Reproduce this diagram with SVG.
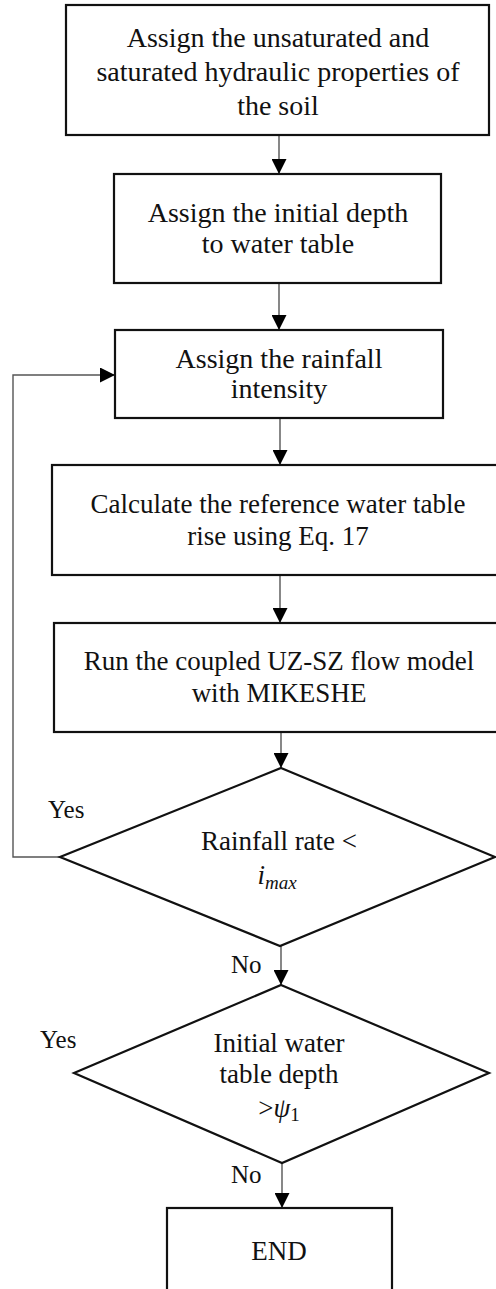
<svg xmlns="http://www.w3.org/2000/svg" width="496" height="1289" viewBox="0 0 496 1289">
<style>
.box{fill:#fff;stroke:#111;stroke-width:2.2}
.t{font-family:'Liberation Serif','DejaVu Serif',serif;font-size:27px;fill:#111;text-anchor:middle}
.tb{font-size:28px}
.lbl{font-family:'Liberation Serif','DejaVu Serif',serif;font-size:25px;fill:#111}
.m{font-style:italic}
.c{fill:none;stroke:#555;stroke-width:1.4}
</style>
<defs>
<marker id="ah" markerUnits="userSpaceOnUse" markerWidth="15" markerHeight="15" refX="15" refY="7.5" orient="auto">
<path d="M0,0 L15,7.5 L0,15 z" fill="#000"/>
</marker>
</defs>
<rect width="496" height="1289" fill="#fff"/>
<g id="connectors">
<line class="c" x1="279" y1="135" x2="279" y2="174" marker-end="url(#ah)"/>
<line class="c" x1="279" y1="283" x2="279" y2="330" marker-end="url(#ah)"/>
<line class="c" x1="280" y1="418" x2="280" y2="465" marker-end="url(#ah)"/>
<line class="c" x1="280" y1="575" x2="280" y2="623" marker-end="url(#ah)"/>
<line class="c" x1="281" y1="732" x2="281" y2="768" marker-end="url(#ah)"/>
<line class="c" x1="281" y1="946" x2="281" y2="985" marker-end="url(#ah)"/>
<line class="c" x1="282" y1="1163" x2="282" y2="1208" marker-end="url(#ah)"/>
<polyline class="c" points="60,857 13,857 13,375 115,375" marker-end="url(#ah)"/>
<text class="lbl" x="48" y="818">Yes</text>
<text class="lbl" x="231" y="973">No</text>
<text class="lbl" x="40" y="1048">Yes</text>
<text class="lbl" x="231" y="1183">No</text>
</g>
<g id="n1">
<rect class="box" x="66" y="5" width="423" height="130"/>
<text class="t tb" x="278" y="47">Assign the unsaturated and</text>
<text class="t tb" x="278" y="81">saturated hydraulic properties of</text>
<text class="t tb" x="278" y="115">the soil</text>
</g>
<g id="n2">
<rect class="box" x="114" y="174" width="327" height="109"/>
<text class="t tb" x="278" y="222">Assign the initial depth</text>
<text class="t tb" x="278" y="253">to water table</text>
</g>
<g id="n3">
<rect class="box" x="115" y="330" width="328" height="88"/>
<text class="t tb" x="279" y="368">Assign the rainfall</text>
<text class="t tb" x="279" y="398">intensity</text>
</g>
<g id="n4">
<rect class="box" x="52" y="465" width="446" height="110"/>
<text class="t" x="278" y="513">Calculate the reference water table</text>
<text class="t" x="278" y="545">rise using Eq. 17</text>
</g>
<g id="n5">
<rect class="box" x="54" y="623" width="444" height="109"/>
<text class="t" x="279" y="670">Run the coupled UZ-SZ flow model</text>
<text class="t" x="279" y="702">with MIKESHE</text>
</g>
<g id="d1">
<polygon class="box" points="281,768 495,857 280,946 60,857"/>
<text class="t" x="279" y="850">Rainfall rate &lt;</text>
<text class="t" x="277" y="884"><tspan class="m">i</tspan><tspan class="m" font-size="19" dy="5">max</tspan></text>
</g>
<g id="d2">
<polygon class="box" points="281,985 489,1073 282,1163 74,1073"/>
<text class="t" x="279" y="1052">Initial water</text>
<text class="t" x="279" y="1083">table depth</text>
<text class="t" x="279" y="1117">&gt;<tspan class="m">ψ</tspan><tspan font-size="19" dy="4">1</tspan></text>
</g>
<g id="n6">
<rect class="box" x="167" y="1208" width="225" height="90"/>
<text class="t" x="279" y="1260">END</text>
</g>
</svg>
